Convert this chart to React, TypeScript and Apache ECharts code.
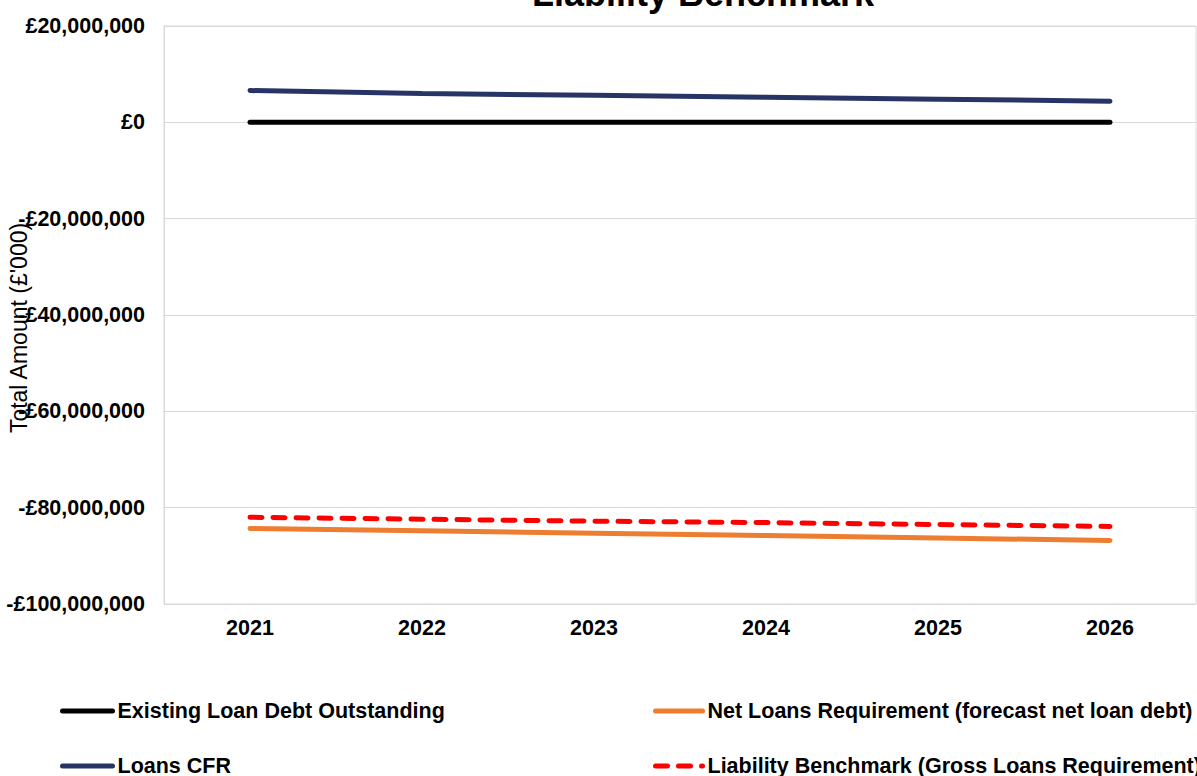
import React, { useEffect, useRef } from "react";
import * as echarts from "echarts";

const years = ["2021", "2022", "2023", "2024", "2025", "2026"];
const existingLoanDebt = [0, 0, 0, 0, 0, 0];
const netLoansRequirement = [-84300000, -84800000, -85300000, -85800000, -86300000, -86800000];
const loansCFR = [6600000, 6000000, 5600000, 5200000, 4800000, 4400000];
const liabilityBenchmark = [-82000000, -82400000, -82800000, -83100000, -83500000, -83900000];

const S_EXIST = "Existing Loan Debt Outstanding";
const S_NET = "Net Loans Requirement (forecast net loan debt)";
const S_CFR = "Loans CFR";
const S_LB = "Liability Benchmark (Gross Loans Requirement)";

const FONT = "'Liberation Sans', Arial, sans-serif";

function fmt(v: number): string {
  const abs = Math.abs(v).toLocaleString("en-GB");
  return (v < 0 ? "-£" : "£") + abs;
}

export default function App() {
  const ref = useRef<HTMLDivElement>(null);
  useEffect(() => {
    if (!ref.current) return;
    const chart = echarts.init(ref.current, undefined, { renderer: "svg" });
    const legendText = { fontFamily: FONT, fontSize: 21.5, fontWeight: "bold" as const, color: "#000" };
    const mkLegend = (name: string, left: number, top: number, w: number) => ({
      data: [name],
      left,
      top,
      padding: 0,
      orient: "horizontal",
      itemWidth: w,
      itemHeight: 1,
      lineStyle: { width: 5 },
      textStyle: legendText,
      selectedMode: false,
    });
    chart.setOption({
      animation: false,
      backgroundColor: "#fff",
      textStyle: { fontFamily: FONT },
      graphic: [
        {
          type: "text",
          x: 703,
          y: 11,
          style: {
            text: "Liability Benchmark",
            font: `bold 36px ${FONT}`,
            fill: "#000",
            align: "center",
            verticalAlign: "bottom",
          },
        },
      ],
      grid: {
        left: 164,
        right: 1,
        top: 26,
        bottom: 172,
        show: true,
        borderColor: "#d9d9d9",
        borderWidth: 1,
        outerBoundsMode: "none",
        containLabel: false,
      },
      legend: [
        mkLegend(S_EXIST, 60, 700, 50),
        mkLegend(S_CFR, 60, 755, 50),
        mkLegend(S_NET, 653, 700, 47),
        mkLegend(S_LB, 653, 755, 47),
      ],
      xAxis: {
        type: "category",
        data: years,
        boundaryGap: true,
        axisLine: { show: true, lineStyle: { color: "#d9d9d9" } },
        axisTick: { show: false },
        axisLabel: {
          fontFamily: FONT,
          fontSize: 21.5,
          fontWeight: "bold",
          color: "#000",
          margin: 13,
        },
      },
      yAxis: {
        type: "value",
        min: -100000000,
        max: 20000000,
        interval: 20000000,
        name: "Total Amount (£'000)",
        nameLocation: "middle",
        nameGap: 134,
        nameMoveOverlap: false,
        nameTextStyle: { fontFamily: FONT, fontSize: 23, color: "#000", padding: [0, 26, 0, 0] },
        axisLine: { show: true, lineStyle: { color: "#d9d9d9" } },
        axisTick: { show: false },
        splitLine: { show: true, lineStyle: { color: "#d9d9d9", width: 1 } },
        axisLabel: {
          fontFamily: FONT,
          fontSize: 21.5,
          fontWeight: "bold",
          color: "#000",
          margin: 19,
          formatter: (v: number) => fmt(v),
        },
      },
      series: [
        {
          name: S_EXIST,
          type: "line",
          data: existingLoanDebt,
          symbol: "none",
          lineStyle: { color: "#000000", width: 5, cap: "round" },
          itemStyle: { color: "#000000" },
          z: 3,
        },
        {
          name: S_NET,
          type: "line",
          data: netLoansRequirement,
          symbol: "none",
          lineStyle: { color: "#ed7d31", width: 5, cap: "round" },
          itemStyle: { color: "#ed7d31" },
          z: 3,
        },
        {
          name: S_CFR,
          type: "line",
          data: loansCFR,
          symbol: "none",
          lineStyle: { color: "#283466", width: 5, cap: "round" },
          itemStyle: { color: "#283466" },
          z: 3,
        },
        {
          name: S_LB,
          type: "line",
          data: liabilityBenchmark,
          symbol: "none",
          lineStyle: { color: "#ff0000", width: 5, type: [12, 11], cap: "round" },
          itemStyle: { color: "#ff0000" },
          z: 4,
        },
      ],
    });
    return () => chart.dispose();
  }, []);
  return <div ref={ref} style={{ width: 1197, height: 776, position: "absolute", left: 0, top: 0 }} />;
}
